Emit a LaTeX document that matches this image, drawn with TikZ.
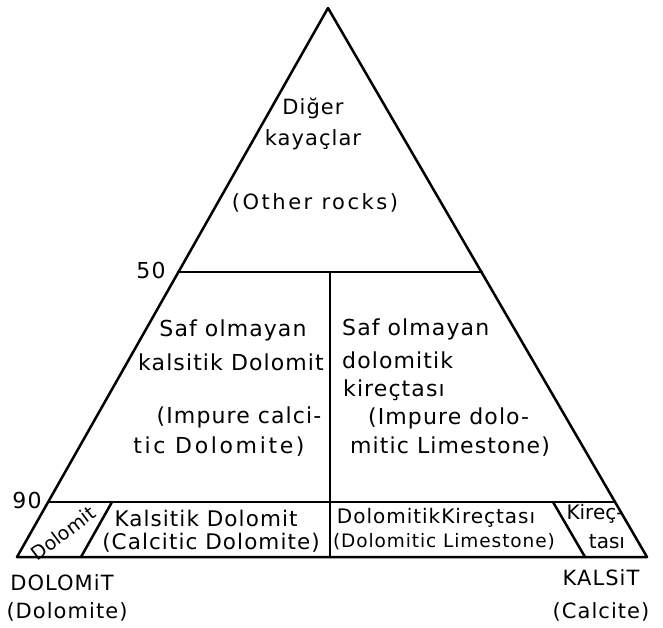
\documentclass[tikz,border=0pt]{standalone}
\usepackage{fontspec}
\setmainfont{DejaVu Sans}[LetterSpace=5]
\newfontfamily\tightfont{DejaVu Sans}
\begin{document}
\begin{tikzpicture}[x=1pt,y=-1pt,
  edge/.style={line width=2.5pt,line join=round,line cap=round},
  lbl/.style={inner sep=0pt,font=\fontsize{22}{26}\selectfont},
  toplbl/.style={inner sep=0pt,font=\fontsize{21}{25}\selectfont},
  botlbl/.style={inner sep=0pt,font=\fontsize{21.5}{25}\selectfont},
  small/.style={inner sep=0pt,font=\fontsize{20}{24}\selectfont},
  tiny/.style={inner sep=0pt,font=\tightfont\fontsize{20}{23}\selectfont},
  corner/.style={inner sep=0pt,font=\fontsize{21}{25}\selectfont}]
\useasboundingbox (0,0) rectangle (663,627);
% vertices
\coordinate (A) at (328,8);
\coordinate (BL) at (17,557);
\coordinate (BR) at (647,557);
\coordinate (L50) at (178,272);
\coordinate (R50) at (482,272);
\coordinate (L90) at (48,502);
\coordinate (R90) at (615,502);
\coordinate (M50) at (330,272);
\coordinate (Mb) at (330,557);
\coordinate (D90) at (112,502);
\coordinate (Db) at (81,557);
\coordinate (K90) at (553,502);
\coordinate (Kb) at (585,557);
% outline and dividers
\draw[edge] (A) -- (BR) -- (BL) -- cycle;
\draw[edge] (L50) -- (R50);
\draw[edge] (L90) -- (R90);
\draw[edge] (M50) -- (Mb);
\draw[edge] (D90) -- (Db);
\draw[edge] (K90) -- (Kb);
% scale numbers
\node[lbl] (n50) at (151,270) {50};
\node[lbl] (n90) at (27,500) {90};
% top field
\node[toplbl] (t1) at (313,108) {Diğer};
\node[toplbl] (t2) at (313,140) {kayaçlar};
\node[toplbl,font=\addfontfeature{LetterSpace=12}\fontsize{21}{25}\selectfont] (t3) at (315,203) {(Other rocks)};
% middle left
\node[lbl] (l1) at (233,330) {Saf olmayan};
\node[lbl] (l2) at (231,362) {kalsitik Dolomit};
\node[lbl] (l3) at (239,417) {(Impure calci-};
\node[lbl,font=\addfontfeature{LetterSpace=12}\fontsize{22}{26}\selectfont] (l4) at (219,447) {tic Dolomite)};
% middle right
\node[lbl,anchor=west] (r1) at (342,329) {Saf olmayan};
\node[lbl,anchor=west] (r2) at (342,360) {dolomitik};
\node[lbl,anchor=west] (r3) at (343,390) {kireçtası};
\node[lbl,anchor=west] (r4) at (368,418) {(Impure dolo-};
\node[lbl,anchor=west] (r5) at (350,447) {mitic Limestone)};
% bottom row
\node[tiny,font=\tightfont\fontsize{19}{22}\selectfont,rotate=37] (b0) at (63,533) {Dolomit};
\node[botlbl] (b1) at (206,518) {Kalsitik Dolomit};
\node[botlbl] (b2) at (211,543) {(Calcitic Dolomite)};
\node[small] (b3) at (436,518) {DolomitikKireçtası};
\node[small,font=\fontsize{18.5}{22}\selectfont] (b4) at (444,542) {(Dolomitic Limestone)};
\node[tiny] (b5) at (595,514) {Kireç-};
\node[tiny] (b6) at (607,542) {tası};
% corners
\node[corner] (c1) at (62,583) {DOLOMiT};
\node[corner] (c2) at (67,612) {(Dolomite)};
\node[corner] (c3) at (601,578) {KALSiT};
\node[corner] (c4) at (601,612) {(Calcite)};
\end{tikzpicture}
\end{document}
